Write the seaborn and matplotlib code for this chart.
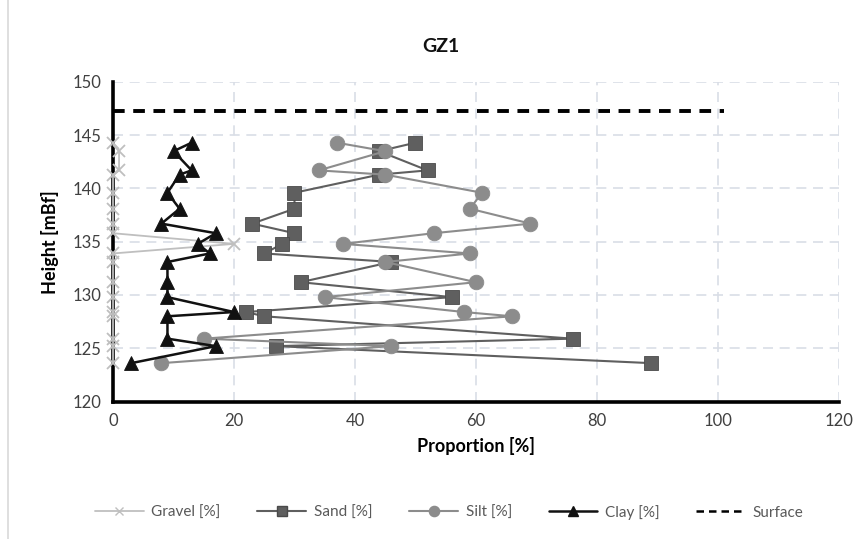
import matplotlib
matplotlib.use('Agg')
import matplotlib.pyplot as plt
from matplotlib.lines import Line2D
import seaborn as sns

# depth of each sample [mBf]
height = [144.3, 143.5, 141.7, 141.3, 139.6, 138.1, 136.7, 135.8, 134.8,
          133.9, 133.1, 131.2, 129.8, 128.4, 128.0, 125.9, 125.2, 123.6]

gravel = [0, 1, 1, 0, 0, 0, 0, 0, 20, 0, 0, 0, 0, 0, 0, 0, 0, 0]
sand = [50, 44, 52, 44, 30, 30, 23, 30, 28, 25, 46, 31, 56, 22, 25, 76, 27, 89]
silt = [37, 45, 34, 45, 61, 59, 69, 53, 38, 59, 45, 60, 35, 58, 66, 15, 46, 8]
clay = [13, 10, 13, 11, 9, 11, 8, 17, 14, 16, 9, 9, 9, 20, 9, 9, 17, 3]

surface_x = [0, 101]
surface_y = [147.3, 147.3]

x_ticks = [0, 20, 40, 60, 80, 100, 120]
y_ticks = [120, 125, 130, 135, 140, 145, 150]

sns.set_theme(style='white')
plt.rcParams['font.family'] = ['Lato', 'DejaVu Sans']

fig = plt.figure(figsize=(8.64, 5.39), dpi=100)
ax = fig.add_axes([0.1308, 0.2551, 0.8402, 0.5928])

series = [
    ('Gravel [%]', gravel, '#BFBFBF', 'x', 9, 1.3, '#BFBFBF'),
    ('Sand [%]', sand, '#5F5F5F', 's', 10, 1.5, '#4A4A4A'),
    ('Silt [%]', silt, '#8C8C8C', 'o', 10.5, 1.5, '#8C8C8C'),
    ('Clay [%]', clay, '#111111', '^', 10.5, 1.8, '#111111'),
]

handles = []
for i, (name, vals, col, mk, ms, lw, edge) in enumerate(series):
    sns.lineplot(x=vals, y=height, sort=False, estimator=None, ax=ax,
                 color=col, linewidth=lw, marker=mk, markersize=ms,
                 markeredgecolor=edge, markeredgewidth=1.3 if mk == 'x' else 0.6,
                 markerfacecolor=col, clip_on=False, zorder=3 + i * 0.1)
    handles.append(Line2D([0], [0], color=col, lw=lw, marker=mk,
                          markersize=ms * 0.7, markerfacecolor=col,
                          markeredgecolor=edge, label=name))

sns.lineplot(x=surface_x, y=surface_y, ax=ax, color='black', linewidth=2.8,
             linestyle=(0, (3, 2.2)))
handles.append(Line2D([0], [0], color='black', lw=1.8, linestyle=(0, (3, 2)),
                      label='Surface'))

ax.set_xlim(0, 120)
ax.set_ylim(120, 150)
ax.set_xticks(x_ticks)
ax.set_yticks(y_ticks)
ax.grid(True, color='#D9DEE6', linestyle=(0, (6, 4)), linewidth=1.2)
ax.set_axisbelow(True)
ax.tick_params(length=0, labelsize=12, colors='#404040', pad=8)

for s in ['top', 'right']:
    ax.spines[s].set_visible(False)
for s in ['left', 'bottom']:
    ax.spines[s].set_color('black')
    ax.spines[s].set_linewidth(2.6)

ax.set_xlabel('Proportion [%]', fontsize=13, fontweight='bold', color='black', labelpad=6)
ax.set_ylabel('Height [mBf]', fontsize=13, fontweight='bold', color='black', labelpad=10)

fig.text(0.51, 0.913, 'GZ1', ha='center', va='center', fontsize=14,
         fontweight='bold', color='#111111')

leg = fig.legend(handles=handles, loc='center', bbox_to_anchor=(0.52, 0.05),
                 ncol=5, frameon=False, fontsize=11, handlelength=3.2,
                 columnspacing=2.4, handletextpad=0.5)
for t in leg.get_texts():
    t.set_color('#595959')

# thin chart-area border on the left
fig.add_artist(Line2D([0.0095, 0.0095], [0.0, 1.0], color='#D9D9D9', lw=1.2,
                      transform=fig.transFigure))

fig.savefig('out.png', dpi=100)
